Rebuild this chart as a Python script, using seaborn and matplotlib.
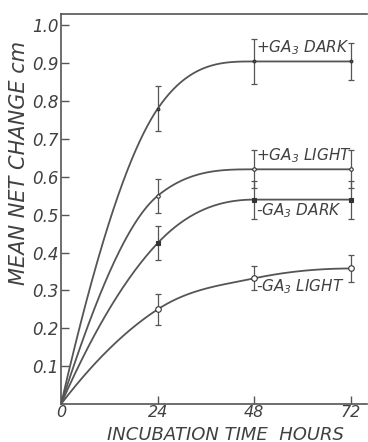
import numpy as np
import pandas as pd
import matplotlib
matplotlib.use("Agg")
import matplotlib.pyplot as plt
import seaborn as sns

hours = [0, 24, 48, 72]
plus_dark = [0.0, 0.78, 0.905, 0.905]
plus_dark_err = [0.0, 0.06, 0.06, 0.05]
plus_light = [0.0, 0.55, 0.62, 0.62]
plus_light_err = [0.0, 0.045, 0.05, 0.05]
minus_dark = [0.0, 0.425, 0.54, 0.54]
minus_dark_err = [0.0, 0.045, 0.05, 0.05]
minus_light = [0.0, 0.25, 0.332, 0.358]
minus_light_err = [0.0, 0.04, 0.032, 0.035]

series_names = ["+GA$_3$ DARK", "+GA$_3$ LIGHT", "-GA$_3$ DARK", "-GA$_3$ LIGHT"]
yticks = [0.1, 0.2, 0.3, 0.4, 0.5, 0.6, 0.7, 0.8, 0.9, 1.0]
xticks = [0, 24, 48, 72]

sns.set_style("ticks")
plt.rcParams["font.family"] = ["DejaVu Sans"]
plt.rcParams["font.style"] = "italic"
plt.rcParams["mathtext.fontset"] = "custom"
plt.rcParams["mathtext.rm"] = "DejaVu Sans:italic"
plt.rcParams["mathtext.it"] = "DejaVu Sans:italic"
plt.rcParams["mathtext.default"] = "rm"

INK = "#404040"
LINE = "#555555"


def smooth_curve(x, y, xs):
    """Monotone cubic Hermite through the data (Fritsch-Carlson, central slopes)."""
    x = np.asarray(x, float); y = np.asarray(y, float)
    h = np.diff(x); d = np.diff(y) / h
    n = len(x); m = np.zeros(n)
    for k in range(1, n - 1):
        m[k] = 0.0 if d[k - 1] * d[k] <= 0 else (d[k - 1] + d[k]) / 2
    m[0] = ((2 * h[0] + h[1]) * d[0] - h[0] * d[1]) / (h[0] + h[1])
    m[-1] = ((2 * h[-1] + h[-2]) * d[-1] - h[-1] * d[-2]) / (h[-1] + h[-2])
    if m[-1] * d[-1] <= 0:
        m[-1] = 0.0
    for k in range(n - 1):
        if d[k] == 0:
            m[k] = m[k + 1] = 0.0
            continue
        a, b = m[k] / d[k], m[k + 1] / d[k]
        s = a * a + b * b
        if s > 9:
            t = 3 / np.sqrt(s)
            m[k] = t * a * d[k]; m[k + 1] = t * b * d[k]
    out = np.empty_like(xs)
    for i, xv in enumerate(xs):
        k = min(np.searchsorted(x, xv, side="right") - 1, n - 2)
        t = (xv - x[k]) / h[k]
        h00 = 2 * t**3 - 3 * t**2 + 1; h10 = t**3 - 2 * t**2 + t
        h01 = -2 * t**3 + 3 * t**2; h11 = t**3 - t**2
        out[i] = h00 * y[k] + h10 * h[k] * m[k] + h01 * y[k + 1] + h11 * h[k] * m[k + 1]
    return out


fig = plt.figure(figsize=(3.68, 4.42), dpi=100)
ax = fig.add_axes([0.166, 0.086, 0.831, 0.882])

all_vals = [plus_dark, plus_light, minus_dark, minus_light]
all_errs = [plus_dark_err, plus_light_err, minus_dark_err, minus_light_err]
markers = [dict(marker="o", ms=2, mfc=LINE), dict(marker="o", ms=2.5, mfc="white"),
           dict(marker="s", ms=3.5, mfc="#333333"), dict(marker="o", ms=4, mfc="white")]

xs = np.linspace(0, 72, 300)
rows = []
for name, vals in zip(series_names, all_vals):
    ys = smooth_curve(hours, vals, xs)
    for a, b in zip(xs, ys):
        rows.append({"hours": a, "value": b, "series": name})
curve_df = pd.DataFrame(rows)
sns.lineplot(data=curve_df, x="hours", y="value", units="series", estimator=None,
             color=LINE, lw=1.3, ax=ax, legend=False)

for vals, errs, mk in zip(all_vals, all_errs, markers):
    ax.errorbar(hours[1:], vals[1:], yerr=errs[1:], fmt="none", ecolor=LINE,
                elinewidth=0.9, capsize=2.2, capthick=0.9, zorder=3)
    ax.plot(hours[1:], vals[1:], linestyle="none", marker=mk["marker"], ms=mk["ms"],
            mfc=mk["mfc"], mec="#333333", mew=0.8, zorder=4)

label_y = [0.942, 0.657, 0.512, 0.311]
for name, ly in zip(series_names, label_y):
    ax.text(48.4, ly, name, fontsize=11, color=INK, va="center", ha="left", style="italic")

ax.set_xlim(0, 76)
ax.set_ylim(0, 1.03)
ax.set_xticks(xticks)
ax.set_xticklabels([str(v) for v in xticks])
ax.set_yticks(yticks)
ax.set_yticklabels([f"{v:.1f}" for v in yticks])
ax.tick_params(direction="in", length=6, width=1, colors=LINE, labelcolor=INK,
               labelsize=12, pad=2)
ax.tick_params(axis="x", labelsize=11.5, pad=1)
for lab in ax.get_xticklabels() + ax.get_yticklabels():
    lab.set_style("italic")
ax.spines["right"].set_visible(False)
for s in ["left", "bottom", "top"]:
    ax.spines[s].set_color(LINE)
    ax.spines[s].set_linewidth(1.2)

ax.set_xlabel("")
ax.set_ylabel("")
fig.text(225 / 368, 2.5 / 442, "INCUBATION TIME  HOURS", fontsize=13, color=INK,
         style="italic", ha="center", va="baseline")
fig.text(19 / 368, 1 - 163 / 442, "MEAN NET CHANGE cm", fontsize=15, color=INK,
         style="italic", ha="center", va="center", rotation=90)

fig.savefig("out.png", dpi=100)
